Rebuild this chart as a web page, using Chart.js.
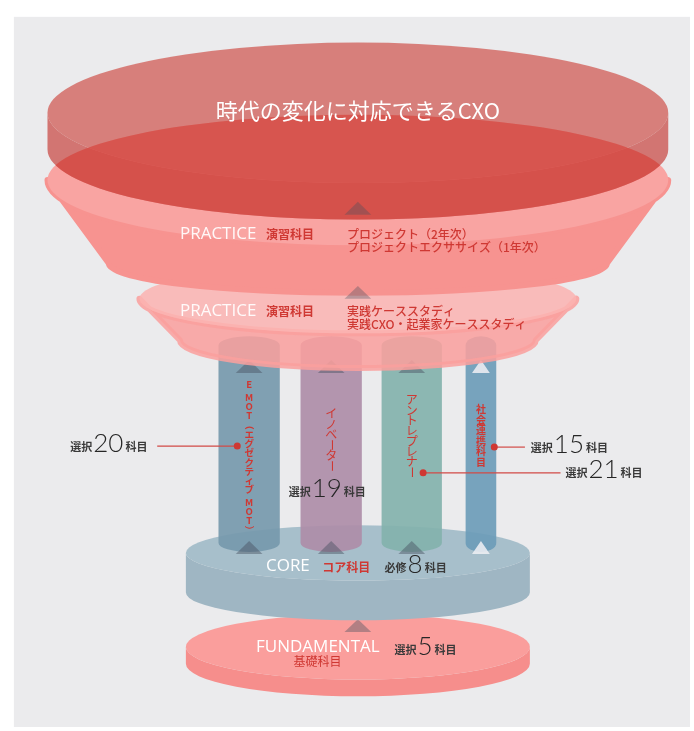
<!DOCTYPE html>
<html>
<head>
<meta charset="utf-8">
<script src="https://cdn.jsdelivr.net/npm/chart.js@4.4.1/dist/chart.umd.min.js"></script>
<style>
  html, body { margin: 0; padding: 0; background: #fff; }
  #wrap { width: 694px; height: 731px; }
</style>
</head>
<body>
<div id="wrap"><canvas id="diagram" width="694" height="731"></canvas></div>
<script>
// --- data ---
const tierTitles = ['時代の変化に対応できるCXO', 'PRACTICE', 'PRACTICE', 'CORE', 'FUNDAMENTAL'];
const tierKinds = ['', '演習科目', '演習科目', 'コア科目', '基礎科目'];
const practiceCourses = [
  ['プロジェクト（2年次）', 'プロジェクトエクササイズ（1年次）'],
  ['実践ケーススタディ', '実践CXO・起業家ケーススタディ']
];
const pillarNames = ['E MOT（エグゼクティブ MOT）', 'イノベーター', 'アントレプレナー', '社会連携科目'];
const pillarCounts = [20, 19, 21, 15];
const coreCount = 8;
const fundamentalCount = 5;
const electiveWord = '選択';
const requiredWord = '必修';
const unitWord = '科目';

// --- layout (pixels in a 694 x 731 frame) ---
const frame = { x: 10, y: 13 };
const topDisk = { cx: 358, cy: 110, rx: 314, ry: 71, h: 37 };
const practice1 = { cx: 358, ty: 178, rxT: 314, ryT: 66, by: 262, rxB: 252, ryB: 30 };
const practice2 = { cx: 358, ty: 298, rxT: 221, ryT: 35, by: 340, rxB: 180, ryB: 28 };
const coreDisk = { cx: 358, cy: 555, rx: 174, ry: 28, h: 40 };
const fundDisk = { cx: 358, cy: 650, rx: 174, ry: 33, h: 17 };
const pillarBox = [
  { x0: 217, x1: 279, color: 'rgba(118,153,173,0.92)', tri: 'rgba(70,80,95,0.45)' },
  { x0: 300, x1: 362, color: 'rgba(174,141,168,0.92)', tri: 'rgba(70,80,95,0.45)' },
  { x0: 382, x1: 443, color: 'rgba(131,178,173,0.92)', tri: 'rgba(70,80,95,0.45)' },
  { x0: 467, x1: 498, color: 'rgba(108,156,184,0.92)', tri: 'rgba(240,240,244,0.85)' }
];
const pillarTop = 345, pillarBottom = 545;
const pillarText = [
  { y0: 385, step: 9.36, font: 'bold 9.5px "Noto Sans CJK JP"' },
  { y0: 414, step: 10.6, font: '12px "Noto Sans CJK JP"' },
  { y0: 400, step: 10.5, font: '12px "Noto Sans CJK JP"' },
  { y0: 410, step: 10.6, font: 'bold 10px "Noto Sans CJK JP"' }
];
// where each pillar count is written, and its leader line
const countPos = [
  { x: 67, base: 452, dotX: 236, lineY: 447, lineEnd: 155 },
  { x: 288, base: 497 },
  { x: 568, base: 478, dotX: 424, lineY: 474, lineEnd: 563 },
  { x: 533, base: 453, dotX: 496, lineY: 448, lineEnd: 527 }
];

const RED = '#cf3833';
const JP = '"Noto Sans CJK JP", sans-serif';

function vText(ctx, str, cx, y0, step, font) {
  ctx.save();
  ctx.font = font; ctx.fillStyle = RED;
  ctx.textAlign = 'center'; ctx.textBaseline = 'middle';
  let y = y0;
  for (const ch of str) {
    if (ch === ' ') { y += step * 0.35; continue; }
    if ('ー（）'.includes(ch)) {
      ctx.save(); ctx.translate(cx, y); ctx.rotate(Math.PI / 2); ctx.fillText(ch, 0, 0); ctx.restore();
    } else ctx.fillText(ch, cx, y);
    y += step;
  }
  ctx.restore();
}

function countLabel(ctx, x, base, word, n) {
  ctx.save();
  ctx.textAlign = 'left'; ctx.textBaseline = 'alphabetic'; ctx.fillStyle = '#3a3a3a';
  ctx.font = 'bold 11px ' + JP; ctx.fillText(word, x, base);
  x += ctx.measureText(word).width + 1;
  ctx.fillStyle = '#262626';
  ctx.font = '300 26px Lato, sans-serif'; ctx.fillText(String(n), x, base + 1);
  x += ctx.measureText(String(n)).width + 2;
  ctx.fillStyle = '#3a3a3a';
  ctx.font = 'bold 11px ' + JP; ctx.fillText(unitWord, x, base);
  ctx.restore();
}

const diagram = {
  id: 'diagram',
  beforeDatasetsDraw(chart) {
    const ctx = chart.ctx, sx = chart.scales.x, sy = chart.scales.y;
    const X = v => sx.getPixelForValue(v), Y = v => sy.getPixelForValue(v);
    const W = d => X(d) - X(0), H = d => Y(d) - Y(0);

    function cylinder(d, top, side, alpha) {
      const cx = X(d.cx), cy = Y(d.cy), rx = W(d.rx), ry = H(d.ry), h = H(d.h);
      ctx.save(); ctx.globalAlpha = alpha;
      ctx.beginPath();
      ctx.moveTo(cx - rx, cy); ctx.lineTo(cx - rx, cy + h);
      ctx.ellipse(cx, cy + h, rx, ry, 0, Math.PI, 0, true);
      ctx.lineTo(cx + rx, cy);
      ctx.ellipse(cx, cy, rx, ry, 0, 0, Math.PI, false);
      ctx.closePath(); ctx.fillStyle = side; ctx.fill();
      ctx.beginPath(); ctx.ellipse(cx, cy, rx, ry, 0, 0, Math.PI * 2);
      ctx.fillStyle = top; ctx.fill();
      ctx.restore();
    }
    function funnelPath(d) {
      const cx = X(d.cx);
      ctx.beginPath();
      ctx.moveTo(cx - W(d.rxT), Y(d.ty));
      ctx.lineTo(cx - W(d.rxB), Y(d.by));
      ctx.ellipse(cx, Y(d.by), W(d.rxB), H(d.ryB), 0, Math.PI, 0, true);
      ctx.lineTo(cx + W(d.rxT), Y(d.ty));
      ctx.ellipse(cx, Y(d.ty), W(d.rxT), H(d.ryT), 0, 0, Math.PI, true);
      ctx.closePath();
    }
    function funnel(d, top, side, alpha) {
      const cx = X(d.cx);
      ctx.save(); ctx.globalAlpha = alpha;
      ctx.beginPath();
      ctx.moveTo(cx - W(d.rxT), Y(d.ty));
      ctx.lineTo(cx - W(d.rxB), Y(d.by));
      ctx.ellipse(cx, Y(d.by), W(d.rxB), H(d.ryB), 0, Math.PI, 0, true);
      ctx.lineTo(cx + W(d.rxT), Y(d.ty));
      ctx.ellipse(cx, Y(d.ty), W(d.rxT), H(d.ryT), 0, 0, Math.PI, false);
      ctx.closePath();
      ctx.fillStyle = side; ctx.lineJoin = 'round'; ctx.lineWidth = 6; ctx.strokeStyle = side;
      ctx.fill(); ctx.stroke();
      ctx.beginPath(); ctx.ellipse(cx, Y(d.ty), W(d.rxT), H(d.ryT), 0, 0, Math.PI * 2);
      ctx.fillStyle = top; ctx.fill();
      ctx.restore();
    }
    function tri(x, yTop, color, w = 27, h = 13) {
      ctx.beginPath();
      ctx.moveTo(X(x), Y(yTop)); ctx.lineTo(X(x + w / 2), Y(yTop + h)); ctx.lineTo(X(x - w / 2), Y(yTop + h));
      ctx.closePath(); ctx.fillStyle = color; ctx.fill();
    }

    // backdrop
    ctx.save();
    ctx.fillStyle = '#ffffff'; ctx.fillRect(0, 0, chart.width, chart.height);
    ctx.fillStyle = '#ebebed'; ctx.fillRect(X(frame.x), Y(frame.y), X(694) - X(frame.x), Y(731) - Y(frame.y));
    ctx.restore();

    // base tiers
    cylinder(fundDisk, '#fa9e9c', '#f68e8c', 1);
    tri(358, 622, 'rgba(70,80,95,0.4)');
    cylinder(coreDisk, '#a7bfcb', '#9fb6c3', 1);

    // pillars
    pillarBox.forEach((p, i) => {
      const cx = X((p.x0 + p.x1) / 2), rx = W((p.x1 - p.x0) / 2), ry = H(9);
      ctx.save();
      ctx.fillStyle = p.color;
      ctx.beginPath();
      ctx.moveTo(cx - rx, Y(pillarTop));
      ctx.lineTo(cx - rx, Y(pillarBottom));
      ctx.ellipse(cx, Y(pillarBottom), rx, ry, 0, Math.PI, 0, true);
      ctx.lineTo(cx + rx, Y(pillarTop));
      ctx.ellipse(cx, Y(pillarTop), rx, ry, 0, 0, Math.PI, true);
      ctx.closePath(); ctx.fill();
      ctx.restore();
      const tx = (p.x0 + p.x1) / 2;
      tri(tx, 360, p.tri, i === 3 ? 18 : 27);
      tri(tx, 543, p.tri, i === 3 ? 18 : 27);
      vText(ctx, pillarNames[i], cx, Y(pillarText[i].y0), H(pillarText[i].step), pillarText[i].font);
    });

    // practice funnels and top disk
    funnel(practice2, '#fcb3b1', '#fa9f9d', 0.86);
    funnel(practice1, '#f9a4a2', '#f79390', 1);
    cylinder(topDisk, 'rgb(210,100,94)', 'rgb(204,88,82)', 0.8);
    // darker where the top disk lies over the practice funnel
    ctx.save();
    funnelPath(practice1); ctx.clip();
    ctx.beginPath();
    const t = topDisk;
    ctx.moveTo(X(t.cx - t.rx), Y(t.cy - 80));
    ctx.lineTo(X(t.cx - t.rx), Y(t.cy + t.h));
    ctx.ellipse(X(t.cx), Y(t.cy + t.h), W(t.rx), H(t.ry), 0, Math.PI, 0, true);
    ctx.lineTo(X(t.cx + t.rx), Y(t.cy - 80));
    ctx.closePath();
    ctx.fillStyle = 'rgba(214,66,60,0.6)'; ctx.fill();
    ctx.restore();

    tri(358, 200, 'rgba(70,80,95,0.35)');
    tri(358, 285, 'rgba(70,80,95,0.35)');

    // tier texts
    ctx.save();
    ctx.textBaseline = 'middle'; ctx.textAlign = 'center';
    ctx.fillStyle = '#ffffff'; ctx.font = '22px ' + JP;
    ctx.fillText(tierTitles[0], X(358), Y(108));

    ctx.textAlign = 'left';
    [[233, 0], [311, 1]].forEach(([y, k]) => {
      ctx.fillStyle = 'rgba(255,255,255,0.92)'; ctx.font = '17px "Open Sans", sans-serif';
      ctx.fillText(tierTitles[1 + k], X(178), Y(y));
      ctx.fillStyle = RED; ctx.font = 'bold 12px ' + JP;
      ctx.fillText(tierKinds[1 + k], X(265), Y(y));
      ctx.font = '500 12px ' + JP;
      ctx.fillText(practiceCourses[k][0], X(347), Y(y));
      ctx.fillText(practiceCourses[k][1], X(347), Y(y + 13));
    });

    ctx.fillStyle = '#ffffff'; ctx.font = '17px "Open Sans", sans-serif';
    ctx.fillText(tierTitles[3], X(265), Y(568));
    ctx.fillStyle = RED; ctx.font = 'bold 12px ' + JP;
    ctx.fillText(tierKinds[3], X(322), Y(570));

    ctx.fillStyle = '#ffffff'; ctx.font = '17px "Open Sans", sans-serif';
    ctx.fillText(tierTitles[4], X(255), Y(650));
    ctx.fillStyle = RED; ctx.font = '12px ' + JP;
    ctx.fillText(tierKinds[4], X(293), Y(665));
    ctx.restore();

    countLabel(ctx, X(385), Y(574), requiredWord, coreCount);
    countLabel(ctx, X(395), Y(657), electiveWord, fundamentalCount);

    // pillar counts and leader lines
    pillarCounts.forEach((n, i) => {
      const c = countPos[i];
      countLabel(ctx, X(c.x), Y(c.base), electiveWord, n);
      if (c.dotX !== undefined) {
        ctx.save();
        ctx.strokeStyle = '#d24a46'; ctx.lineWidth = 1.2;
        ctx.beginPath(); ctx.moveTo(X(c.lineEnd), Y(c.lineY)); ctx.lineTo(X(c.dotX), Y(c.lineY)); ctx.stroke();
        ctx.restore();
      }
    });
  }
};

new Chart(document.getElementById('diagram'), {
  type: 'scatter',
  data: {
    datasets: [{
      data: countPos.filter(c => c.dotX !== undefined).map(c => ({ x: c.dotX, y: c.lineY })),
      pointRadius: 3.5, pointBackgroundColor: '#cf3833', pointBorderWidth: 0
    }]
  },
  options: {
    responsive: false, animation: false,
    layout: { padding: 0 },
    scales: {
      x: { type: 'linear', min: 0, max: 694, display: false },
      y: { type: 'linear', min: 0, max: 731, reverse: true, display: false }
    },
    plugins: { legend: { display: false }, tooltip: { enabled: false } }
  },
  plugins: [diagram]
});
</script>
</body>
</html>
